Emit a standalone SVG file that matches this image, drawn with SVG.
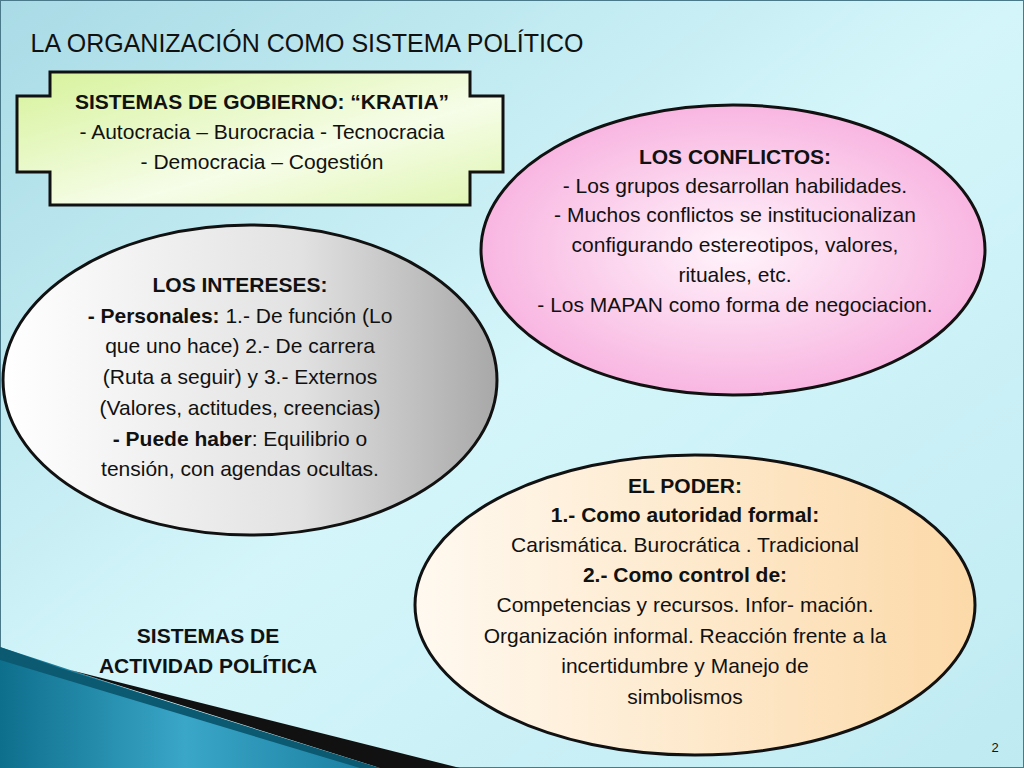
<svg xmlns="http://www.w3.org/2000/svg" width="1024" height="768" viewBox="0 0 1024 768">
<defs>
<linearGradient id="bg" x1="0" y1="0" x2="1" y2="1"><stop offset="0" stop-color="#a9dbe6"/><stop offset="0.5" stop-color="#d4f6fa"/><stop offset="1" stop-color="#bfeaf2"/></linearGradient>
<linearGradient id="gr" x1="0" y1="0" x2="1" y2="1"><stop offset="0" stop-color="#d6f29a"/><stop offset="0.6" stop-color="#f6fde8"/><stop offset="1" stop-color="#dff5b0"/></linearGradient>
<radialGradient id="pk" cx="0.5" cy="0.5" r="0.6"><stop offset="0" stop-color="#fff4fb"/><stop offset="1" stop-color="#f7a9dc"/></radialGradient>
<linearGradient id="gy" x1="0" y1="0" x2="1" y2="0"><stop offset="0" stop-color="#ffffff"/><stop offset="0.6" stop-color="#e2e2e2"/><stop offset="1" stop-color="#a8a8a8"/></linearGradient>
<linearGradient id="or" x1="0" y1="0" x2="1" y2="0"><stop offset="0" stop-color="#fff9f0"/><stop offset="1" stop-color="#fcd9a8"/></linearGradient>
<linearGradient id="bl" x1="0" y1="0" x2="1" y2="0"><stop offset="0" stop-color="#0e6f8c"/><stop offset="0.5" stop-color="#3aa6c8"/><stop offset="1" stop-color="#1b7fa0"/></linearGradient>
<style>
text{font-family:"Liberation Sans",Arial,sans-serif;font-size:21px;fill:#111;text-anchor:middle}
.b{font-weight:bold}
.shape{stroke:#111;stroke-width:3}
</style>
</defs>
<rect width="1024" height="768" fill="url(#bg)"/>
<rect x="0.5" y="0.5" width="1023" height="767" fill="none" stroke="#4a7a8a"/>
<polygon points="0,647 370,768 0,768" fill="url(#bl)"/>
<polygon points="70,670 460,768 380,768" fill="#111"/>
<polygon points="0,647 60,668 380,768 360,768 0,660" fill="#0b5a72"/>
<text x="307" y="52" style="font-size:25px">LA ORGANIZACIÓN COMO SISTEMA POLÍTICO</text>
<g id="gobierno">
<polygon class="shape" fill="url(#gr)" points="50,72 470,72 470,96 503,96 503,172 470,172 470,205 50,205 50,172 17,172 17,96 50,96"/>
<text x="262" y="109" class="b">SISTEMAS DE GOBIERNO:  “KRATIA”</text>
<text x="262" y="139">- Autocracia – Burocracia - Tecnocracia</text>
<text x="262" y="169">- Democracia – Cogestión</text>
</g>
<g id="conflictos">
<ellipse class="shape" fill="url(#pk)" cx="733" cy="250" rx="252" ry="145"/>
<text x="735" y="164" class="b">LOS CONFLICTOS:</text>
<text x="735" y="193">- Los grupos desarrollan habilidades.</text>
<text x="735" y="222">- Muchos conflictos se institucionalizan</text>
<text x="735" y="252">configurando estereotipos, valores,</text>
<text x="735" y="282">rituales, etc.</text>
<text x="735" y="312">- Los MAPAN como forma de negociacion.</text>
</g>
<g id="intereses">
<ellipse class="shape" fill="url(#gy)" cx="250" cy="380" rx="247" ry="155"/>
<text x="240" y="292" class="b">LOS INTERESES:</text>
<text x="240" y="323"><tspan class="b">- Personales:</tspan> 1.- De función (Lo</text>
<text x="240" y="353">que uno hace) 2.- De carrera</text>
<text x="240" y="384">(Ruta a seguir)  y 3.- Externos</text>
<text x="240" y="415">(Valores, actitudes, creencias)</text>
<text x="240" y="446"><tspan class="b">- Puede haber</tspan>: Equilibrio o</text>
<text x="240" y="476">tensión, con agendas ocultas.</text>
</g>
<g id="poder">
<ellipse class="shape" fill="url(#or)" cx="695" cy="605" rx="280" ry="150"/>
<text x="685" y="493" class="b">EL PODER:</text>
<text x="685" y="522" class="b">1.- Como autoridad formal:</text>
<text x="685" y="552">Carismática. Burocrática . Tradicional</text>
<text x="685" y="582" class="b">2.- Como control de:</text>
<text x="685" y="612">Competencias y recursos. Infor-  mación.</text>
<text x="685" y="643">Organización informal.  Reacción frente a la</text>
<text x="685" y="673">incertidumbre y Manejo de</text>
<text x="685" y="704">simbolismos</text>
</g>
<g id="actividad">
<text x="208" y="643" class="b">SISTEMAS DE</text>
<text x="208" y="673" class="b">ACTIVIDAD POLÍTICA</text>
</g>
<text x="995" y="752" style="font-size:13px">2</text>
<g id="connectors"/>
</svg>
